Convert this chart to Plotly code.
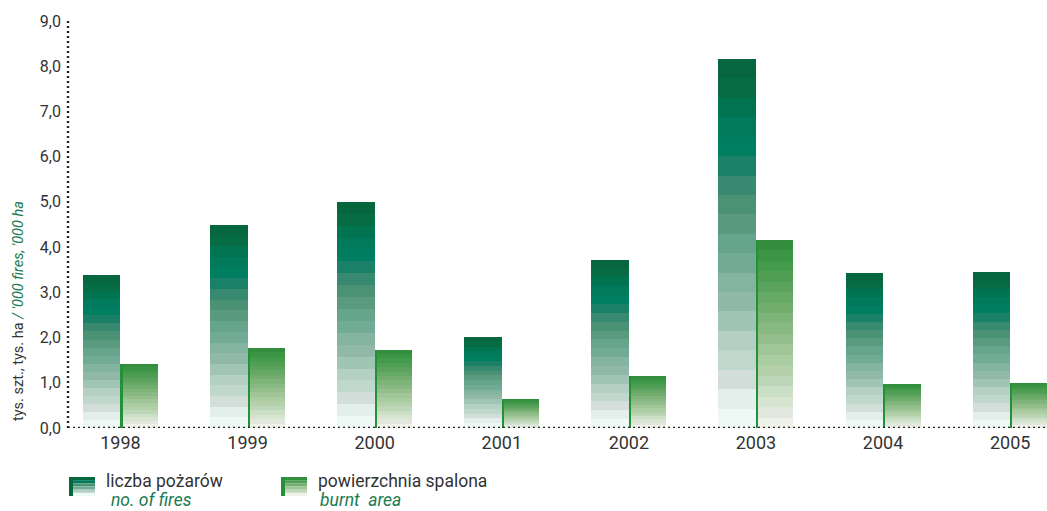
import plotly.graph_objects as go

# Data
years = ["1998", "1999", "2000", "2001", "2002", "2003", "2004", "2005"]
fires = [3.38, 4.49, 5.0, 2.01, 3.72, 8.16, 3.43, 3.44]        # '000 fires
burnt_area = [1.42, 1.77, 1.73, 0.64, 1.15, 4.16, 0.97, 1.0]   # '000 ha
y_ticks = [0, 1, 2, 3, 4, 5, 6, 7, 8, 9]
y_tick_labels = ["0,0", "1,0", "2,0", "3,0", "4,0", "5,0", "6,0", "7,0", "8,0", "9,0"]

# Banded gradients, listed from top (dark) to bottom (light)
fires_bands = ["#06673f", "#066c44", "#007350", "#007a5a", "#007e62", "#1a8068",
               "#378a6f", "#4a9273", "#5a9b80", "#66a48b", "#72ab95", "#84b3a0",
               "#91b9a8", "#a1c5b5", "#b4cfc3", "#c0d8cc", "#d3dedb", "#e2efea", "#eef9f5"]
area_bands = ["#338f3d", "#3a9545", "#449b4b", "#4f9e54", "#5aa25e", "#66a866",
              "#72ad6e", "#7eb379", "#88b983", "#94be8c", "#a0c597", "#a9cca0",
              "#b3d0aa", "#bed6b8", "#cbdfc6", "#d6e4d0", "#e2e8de", "#eef2e9"]
area_edge = "#24903a"
green_text = "#1a7a50"
text_col = "#333333"
font_family = "Roboto, 'Noto Sans', sans-serif"

xpos = list(range(len(years)))
BAR_W = 0.295

fig = go.Figure()


def add_banded(values, bands, offset):
    n = len(bands)
    for k, col in enumerate(reversed(bands)):  # k=0 is bottom band
        fig.add_trace(go.Bar(
            x=xpos,
            y=[v / n for v in values],
            base=[v * k / n for v in values],
            width=BAR_W, offset=offset,
            marker=dict(color=col, line=dict(width=0)),
            showlegend=False, hoverinfo="skip",
        ))


add_banded(fires, fires_bands, -BAR_W)
add_banded(burnt_area, area_bands, 0.0)

# thin darker edge on the left side of the burnt-area bars
fig.add_trace(go.Bar(
    x=xpos, y=burnt_area, width=0.016, offset=0.0,
    marker=dict(color=area_edge, line=dict(width=0)),
    showlegend=False, hoverinfo="skip",
))

fig.update_layout(
    width=1047, height=511,
    margin=dict(l=68, r=0, t=21, b=83),
    barmode="overlay",
    plot_bgcolor="white", paper_bgcolor="white",
    font=dict(family=font_family, color=text_col),
    bargap=0,
)

fig.update_xaxes(
    range=[-0.413, 7.29],
    tickmode="array", tickvals=xpos, ticktext=years,
    tickfont=dict(size=18, color=text_col),
    showgrid=False, zeroline=False, showline=False, ticks="",
    ticklabelstandoff=2,
)
fig.update_yaxes(
    range=[0, 9],
    tickmode="array", tickvals=y_ticks, ticktext=y_tick_labels,
    tickfont=dict(size=16, color=text_col),
    showgrid=False, zeroline=False, showline=False, ticks="",
    ticklabelstandoff=6,
)

# dotted axes
dot = dict(color="#222222", width=2.4, dash="2px,3px")
fig.add_shape(type="line", xref="paper", yref="y", x0=0, x1=0, y0=0, y1=9, line=dot)
fig.add_shape(type="line", xref="paper", yref="y", x0=0, x1=1, y0=0, y1=0, line=dot)

# legend / title helpers (pixel -> paper)
PLOT_W = 979.0
PLOT_H = 407.0


def px_x(px):
    return (px - 68) / PLOT_W


def px_y(py):
    return (428 - py) / PLOT_H


# y-axis title
fig.add_annotation(
    xref="paper", yref="paper", x=px_x(18), y=px_y(311),
    xanchor="center", yanchor="middle",
    text="tys. szt., tys. ha <span style='color:%s'><i>/ '000 fires, '000 ha</i></span>" % green_text,
    textangle=-90, showarrow=False,
    font=dict(size=14.5, color=text_col),
)


def swatch(x0, stripe_col, bands):
    top, bottom = 477, 496
    n = 6
    picks = [bands[int(i * (len(bands) - 1) / (n - 1))] for i in range(n)]
    h = (bottom - top) / n
    for i, col in enumerate(picks):
        fig.add_shape(type="rect", xref="paper", yref="paper",
                      x0=px_x(x0), x1=px_x(x0 + 26),
                      y0=px_y(top + (i + 1) * h), y1=px_y(top + i * h),
                      fillcolor=col, line=dict(width=0), layer="above")
    fig.add_shape(type="rect", xref="paper", yref="paper",
                  x0=px_x(x0), x1=px_x(x0 + 4), y0=px_y(bottom), y1=px_y(top),
                  fillcolor=stripe_col, line=dict(width=0), layer="above")


swatch(69, fires_bands[0], fires_bands)
swatch(281, area_edge, area_bands)

legend_texts = [
    (105, 481, "liczba pożarów", text_col, False),
    (110, 500, "no. of fires", green_text, True),
    (317, 481, "powierzchnia spalona", text_col, False),
    (319, 500, "burnt  area", green_text, True),
]
for x, y, t, c, it in legend_texts:
    fig.add_annotation(
        xref="paper", yref="paper", x=px_x(x), y=px_y(y),
        xanchor="left", yanchor="middle",
        text="<i>%s</i>" % t if it else t,
        showarrow=False, font=dict(size=17.5, color=c),
        borderpad=0,
    )

fig.write_html("out.html")
